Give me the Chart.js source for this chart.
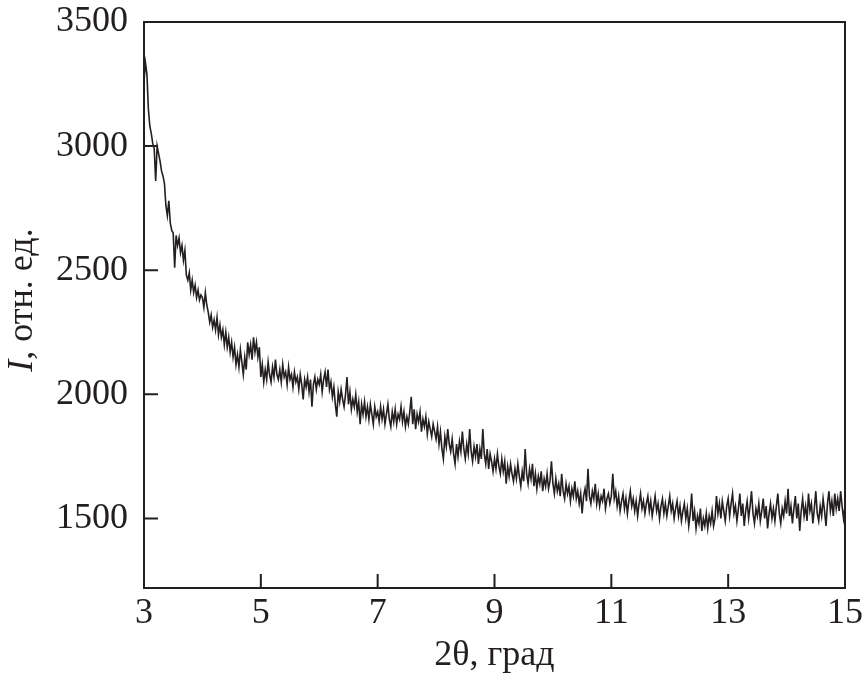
<!DOCTYPE html>
<html>
<head>
<meta charset="utf-8">
<script src="https://cdn.jsdelivr.net/npm/chart.js@4.4.1/dist/chart.umd.min.js"></script>
<style>
  body { margin: 0; background: #fff; }
</style>
</head>
<body>
<canvas id="chart" width="865" height="681"></canvas>
<script>
// scan starts at 3 deg, one reading every 0.025 deg
const thetaStart = 3
const thetaStep = 0.025

// intensity, one row per degree (40 readings each)
const int3 = [3260, 3335, 3290, 3150, 3080, 3050, 3010, 2990, 2860, 3000, 2970, 2940, 2900, 2880, 2850, 2760, 2720, 2780, 2690, 2660,
  2650, 2510, 2640, 2600, 2630, 2570, 2600, 2540, 2580, 2480, 2460, 2490, 2420, 2460, 2410, 2440, 2390, 2420, 2380, 2400]
const int4 = [2390, 2350, 2410, 2360, 2330, 2290, 2320, 2270, 2300, 2260, 2310, 2240, 2280, 2230, 2260, 2200, 2250, 2190, 2230, 2170,
  2210, 2150, 2190, 2120, 2160, 2110, 2180, 2130, 2080, 2150, 2100, 2210, 2160, 2200, 2140, 2230, 2170, 2210, 2150, 2190]
const int5 = [2070, 2120, 2050, 2100, 2060, 2130, 2080, 2050, 2110, 2070, 2140, 2080, 2060, 2100, 2050, 2120, 2070, 2090, 2040, 2110,
  2060, 2080, 2030, 2090, 2050, 2070, 2020, 2080, 2040, 1980, 2060, 2030, 2070, 2010, 2060, 1950, 2040, 2070, 2020, 2060]
const int6 = [2040, 2080, 2010, 2060, 2090, 2030, 2100, 2020, 2050, 1990, 2030, 1960, 1910, 2010, 1970, 2020, 1980, 1950, 2000, 2070,
  1960, 2010, 1940, 1980, 1950, 2000, 1930, 1970, 1880, 1960, 1920, 1970, 1910, 1950, 1900, 1960, 1920, 1880, 1950, 1910]
const int7 = [1930, 1890, 1950, 1900, 1940, 1880, 1920, 1960, 1900, 1870, 1930, 1890, 1940, 1880, 1920, 1900, 1950, 1890, 1930, 1870,
  1910, 1880, 1930, 1990, 1880, 1940, 1860, 1920, 1890, 1930, 1850, 1900, 1870, 1910, 1840, 1890, 1860, 1830, 1880, 1850]
const int8 = [1820, 1870, 1800, 1850, 1780, 1740, 1830, 1790, 1860, 1800, 1770, 1820, 1760, 1720, 1800, 1750, 1810, 1770, 1850, 1780,
  1740, 1800, 1760, 1860, 1770, 1730, 1790, 1750, 1800, 1720, 1780, 1740, 1860, 1760, 1720, 1780, 1700, 1760, 1730, 1690]
const int9 = [1740, 1700, 1760, 1710, 1680, 1740, 1690, 1730, 1640, 1710, 1670, 1720, 1680, 1650, 1700, 1660, 1720, 1670, 1630, 1690,
  1650, 1780, 1680, 1640, 1700, 1660, 1720, 1630, 1680, 1620, 1670, 1640, 1690, 1610, 1660, 1630, 1680, 1620, 1650, 1730]
const int10 = [1640, 1600, 1660, 1610, 1640, 1590, 1680, 1610, 1580, 1640, 1600, 1630, 1570, 1620, 1590, 1650, 1580, 1610, 1560, 1600,
  1520, 1590, 1620, 1570, 1700, 1590, 1560, 1610, 1580, 1640, 1560, 1600, 1550, 1590, 1570, 1620, 1540, 1580, 1600, 1560]
const int11 = [1590, 1680, 1580, 1610, 1550, 1590, 1530, 1570, 1600, 1540, 1580, 1520, 1570, 1610, 1550, 1580, 1530, 1570, 1510, 1560,
  1600, 1540, 1570, 1520, 1560, 1590, 1530, 1570, 1510, 1550, 1590, 1530, 1560, 1500, 1550, 1580, 1520, 1560, 1510, 1550]
const int12 = [1590, 1530, 1560, 1500, 1540, 1570, 1510, 1550, 1490, 1530, 1560, 1500, 1540, 1470, 1520, 1600, 1490, 1530, 1460, 1510,
  1480, 1540, 1450, 1500, 1470, 1520, 1460, 1510, 1480, 1530, 1470, 1500, 1590, 1520, 1560, 1500, 1570, 1530, 1490, 1550]
const int13 = [1580, 1510, 1560, 1600, 1520, 1550, 1490, 1540, 1600, 1510, 1560, 1470, 1530, 1570, 1500, 1550, 1610, 1520, 1480, 1540,
  1510, 1560, 1490, 1530, 1580, 1500, 1550, 1460, 1520, 1560, 1500, 1540, 1490, 1550, 1600, 1520, 1480, 1540, 1510, 1570]
const int14 = [1520, 1620, 1510, 1550, 1480, 1540, 1590, 1500, 1560, 1450, 1530, 1580, 1510, 1550, 1490, 1600, 1530, 1560, 1480, 1540,
  1610, 1520, 1490, 1550, 1510, 1580, 1530, 1470, 1560, 1610, 1530, 1570, 1510, 1600, 1540, 1580, 1530, 1610, 1550, 1500, 1550]

const xTicks = [3, 5, 7, 9, 11, 13, 15]
const yTicks = [1500, 2000, 2500, 3000, 3500]

const intensity = [].concat(int3, int4, int5, int6, int7, int8, int9, int10, int11, int12, int13, int14)
const points = intensity.map((v, i) => ({ x: thetaStart + i * thetaStep, y: v }))

const ink = '#231f20'
const serif = '"Liberation Serif", "Times New Roman", serif'

// frame, inward ticks and the mixed-style y title
const frame = {
  id: 'frame',
  afterDraw(chart) {
    const { ctx, chartArea: a, scales } = chart
    ctx.save()
    ctx.strokeStyle = ink
    ctx.lineWidth = 2
    ctx.strokeRect(a.left, a.top, a.right - a.left, a.bottom - a.top)
    ctx.beginPath()
    xTicks.forEach(t => {
      const px = scales.x.getPixelForValue(t)
      ctx.moveTo(px, a.bottom)
      ctx.lineTo(px, a.bottom - 14)
    })
    yTicks.forEach(t => {
      const py = scales.y.getPixelForValue(t)
      ctx.moveTo(a.left, py)
      ctx.lineTo(a.left + 14, py)
    })
    ctx.stroke()

    // y axis title: italic I, rest upright
    ctx.translate(23, 300)
    ctx.rotate(-Math.PI / 2)
    ctx.fillStyle = ink
    ctx.textBaseline = 'middle'
    const f1 = 'italic 36px ' + serif
    const f2 = '36px ' + serif
    ctx.font = f1
    const w1 = ctx.measureText('I').width
    ctx.font = f2
    const w2 = ctx.measureText(', отн. ед.').width
    let x0 = -(w1 + w2) / 2
    ctx.font = f1
    ctx.fillText('I', x0, 0)
    ctx.font = f2
    ctx.fillText(', отн. ед.', x0 + w1, 0)
    ctx.restore()
  }
}

new Chart(document.getElementById('chart'), {
  type: 'line',
  data: {
    datasets: [{
      data: points,
      borderColor: ink,
      borderWidth: 1.6,
      pointRadius: 0,
      tension: 0,
      fill: false
    }]
  },
  options: {
    responsive: false,
    animation: false,
    layout: { padding: { top: 22, right: 20, left: 0, bottom: 0 } },
    plugins: { legend: { display: false }, tooltip: { enabled: false } },
    scales: {
      x: {
        type: 'linear',
        min: 3,
        max: 15,
        afterBuildTicks: (s) => { s.ticks = xTicks.map(v => ({ value: v })) },
        afterFit: (s) => { s.height = 93; s.paddingLeft = 0; s.paddingRight = 0 },
        grid: { display: false, drawTicks: false },
        border: { display: false },
        ticks: { color: ink, padding: 4, maxRotation: 0, font: { family: serif, size: 36 }, callback: (v) => String(v) },
        title: {
          display: true,
          text: '2θ, град',
          color: ink,
          padding: { top: 0, bottom: 4 },
          font: { family: serif, size: 36 }
        }
      },
      y: {
        min: 1220,
        max: 3500,
        afterBuildTicks: (s) => { s.ticks = yTicks.map(v => ({ value: v })) },
        afterFit: (s) => { s.width = 144; s.paddingTop = 0; s.paddingBottom = 0 },
        grid: { display: false, drawTicks: false },
        border: { display: false },
        ticks: { color: ink, padding: 16, font: { family: serif, size: 36 }, callback: (v) => String(v) }
      }
    }
  },
  plugins: [frame]
})
</script>
</body>
</html>
